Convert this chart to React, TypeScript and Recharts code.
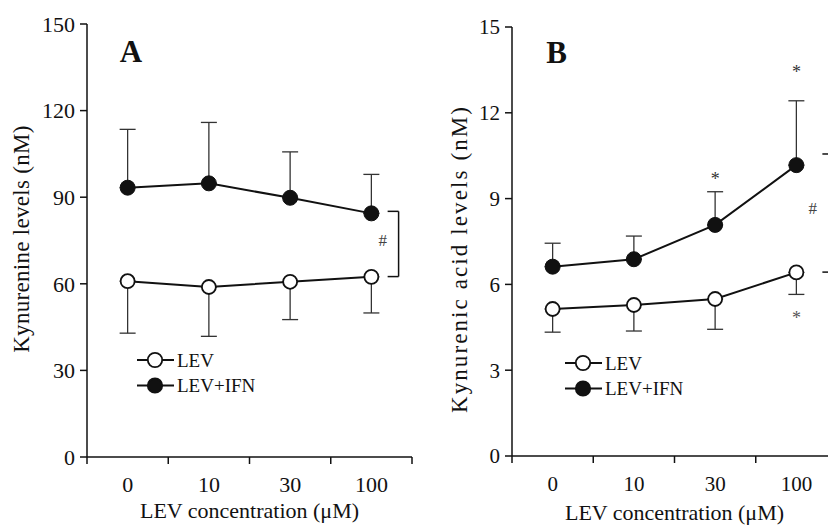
import React from 'react';
import { LineChart, Line, XAxis, YAxis, ErrorBar, ReferenceLine, ReferenceDot, Legend } from 'recharts';

const FONT = '"Liberation Serif", "Times New Roman", Times, serif';
const INK = '#111';

// x categories (LEV concentration, µM)
const concentrations = ['0', '10', '30', '100'];

// Panel A: kynurenine (nM), mean and one-sided SEM
const kynLev = [60.9, 58.9, 60.7, 62.4];
const kynLevErr = [18.0, 17.1, 13.1, 12.5];
const kynIfn = [93.3, 94.8, 89.8, 84.4];
const kynIfnErr = [20.2, 21.1, 15.9, 13.5];
const kynTicks = [0, 30, 60, 90, 120, 150];

// Panel B: kynurenic acid (nM)
const kynaLev = [5.14, 5.28, 5.49, 6.42];
const kynaLevErr = [0.81, 0.91, 1.06, 0.77];
const kynaIfn = [6.62, 6.88, 8.08, 10.17];
const kynaIfnErr = [0.82, 0.81, 1.16, 2.25];
const kynaTicks = [0, 3, 6, 9, 12, 15];

const seriesNames = ['LEV', 'LEV+IFN'];

// band edges get tick marks, band centres get the labels
const xTicks = [-0.5, 0, 0.5, 1, 1.5, 2, 2.5, 3, 3.5];

const buildRows = (lev: number[], levErr: number[], ifn: number[], ifnErr: number[]) =>
  concentrations.map((c, i) => ({
    i,
    conc: c,
    lev: lev[i],
    levErr: [levErr[i], 0],
    ifn: ifn[i],
    ifnErr: [0, ifnErr[i]],
  }));

const kynRows = buildRows(kynLev, kynLevErr, kynIfn, kynIfnErr);
const kynaRows = buildRows(kynaLev, kynaLevErr, kynaIfn, kynaIfnErr);

const makeXTick = (fontSize: number) => (props: any) => {
  const { x, y, payload } = props;
  const v = payload.value;
  if (Number.isInteger(v)) {
    return (
      <text x={x} y={y + 35} textAnchor="middle" fontFamily={FONT} fontSize={fontSize} fill={INK}>
        {concentrations[v]}
      </text>
    );
  }
  return <line x1={x} y1={y} x2={x} y2={y + 7} stroke={INK} strokeWidth={1.5} />;
};

const textMark = (label: string, size: number, shift: number, bold = false, color = INK, anchor = 'middle') =>
  (p: any) => (
    <text
      x={p.cx}
      y={p.cy + shift}
      textAnchor={anchor}
      fontFamily={FONT}
      fontSize={size}
      fontWeight={bold ? 'bold' : 'normal'}
      fill={color}
    >
      {label}
    </text>
  );

const yTitle = (text: string, x: number, y: number, size: number, spacing: number) => () => (
  <text
    x={x}
    y={y}
    transform={`rotate(-90 ${x} ${y})`}
    textAnchor="middle"
    fontFamily={FONT}
    fontSize={size}
    letterSpacing={spacing}
    fill={INK}
  >
    {text}
  </text>
);

const SeriesLegend = () => (
  <svg width={130} height={56} style={{ display: 'block', overflow: 'visible' }}>
    {seriesNames.map((name, k) => {
      const cy = 14 + k * 25.5;
      return (
        <g key={name}>
          <line x1={8} x2={45} y1={cy} y2={cy} stroke={INK} strokeWidth={2} />
          <circle cx={26} cy={cy} r={7.2} fill={k === 1 ? INK : '#fff'} stroke={INK} strokeWidth={1.8} />
          <text x={48} y={cy + 6.5} fontFamily={FONT} fontSize={19} fill={INK}>
            {name}
          </text>
        </g>
      );
    })}
  </svg>
);

interface PanelProps {
  rows: ReturnType<typeof buildRows>;
  yMax: number;
  yTicks: number[];
  yAxisWidth: number;
  top: number;
  right: number;
  xHeight: number;
  tickFont: number;
  titleOffset: number;
  yLabel: () => React.ReactElement;
  legendPos: { left: number; top: number };
  children?: React.ReactNode;
}

const Panel: React.FC<PanelProps> = ({
  rows, yMax, yTicks, yAxisWidth, top, right, xHeight, tickFont, titleOffset, yLabel, legendPos, children,
}) => (
  <LineChart width={420} height={525} data={rows} margin={{ top, right, left: 0, bottom: 0 }}>
    <XAxis
      dataKey="i"
      type="number"
      domain={[-0.5, 3.5]}
      ticks={xTicks}
      interval={0}
      tickLine={false}
      tickSize={0}
      tickMargin={0}
      height={xHeight}
      axisLine={{ stroke: INK, strokeWidth: 1.5 }}
      tick={makeXTick(tickFont)}
      label={{
        value: 'LEV concentration (μM)',
        position: 'insideBottom',
        offset: titleOffset,
        style: { fontFamily: FONT, fontSize: 22, fill: INK },
      }}
    />
    <YAxis
      type="number"
      domain={[0, yMax]}
      ticks={yTicks}
      interval={0}
      width={yAxisWidth}
      tickSize={7}
      tickMargin={5}
      axisLine={{ stroke: INK, strokeWidth: 1.5 }}
      tickLine={{ stroke: INK, strokeWidth: 1.5 }}
      tick={{ fontFamily: FONT, fontSize: tickFont, fill: INK }}
      label={{ content: yLabel }}
    />
    <Legend
      layout="vertical"
      align="center"
      verticalAlign="middle"
      content={<SeriesLegend />}
      wrapperStyle={{ left: legendPos.left, top: legendPos.top, width: 'auto' }}
    />
    <Line
      dataKey="lev"
      type="linear"
      stroke={INK}
      strokeWidth={2}
      dot={{ r: 7, fill: '#fff', stroke: INK, strokeWidth: 1.8 }}
      activeDot={false}
      isAnimationActive={false}
    >
      <ErrorBar dataKey="levErr" direction="y" width={8} stroke="#333" strokeWidth={1.3} />
    </Line>
    <Line
      dataKey="ifn"
      type="linear"
      stroke={INK}
      strokeWidth={2}
      dot={{ r: 7.5, fill: INK, stroke: INK, strokeWidth: 1 }}
      activeDot={false}
      isAnimationActive={false}
    >
      <ErrorBar dataKey="ifnErr" direction="y" width={8} stroke="#333" strokeWidth={1.3} />
    </Line>
    {children}
  </LineChart>
);

const bracket = { stroke: INK, strokeWidth: 1.5, ifOverflow: 'visible' as const };

export default function App() {
  return (
    <div style={{ position: 'absolute', left: 0, top: 0, width: 828, height: 525, overflow: 'hidden', background: '#fff' }}>
      <div style={{ position: 'absolute', left: 0, top: 0 }}>
        <Panel
          rows={kynRows}
          yMax={150}
          yTicks={kynTicks}
          yAxisWidth={87}
          top={24}
          right={8}
          xHeight={68}
          tickFont={22}
          titleOffset={7}
          yLabel={yTitle('Kynurenine levels (nM)', 29, 239, 23, 0.3)}
          legendPos={{ left: 129, top: 346 }}
        >
          <ReferenceDot x={0.04} y={136.8} ifOverflow="visible" shape={textMark('A', 31, 0, true)} />
          <ReferenceDot x={3.14} y={75.3} ifOverflow="visible" shape={textMark('#', 17, 6, false, '#444')} />
          <ReferenceLine segment={[{ x: 3.2, y: 85.1 }, { x: 3.335, y: 85.1 }]} {...bracket} />
          <ReferenceLine segment={[{ x: 3.335, y: 85.1 }, { x: 3.335, y: 62.5 }]} {...bracket} />
          <ReferenceLine segment={[{ x: 3.2, y: 62.5 }, { x: 3.335, y: 62.5 }]} {...bracket} />
        </Panel>
      </div>
      <div style={{ position: 'absolute', left: 420, top: 0 }}>
        <Panel
          rows={kynaRows}
          yMax={15}
          yTicks={kynaTicks}
          yAxisWidth={92}
          top={27}
          right={3}
          xHeight={69}
          tickFont={21}
          titleOffset={5}
          yLabel={yTitle('Kynurenic acid levels (nM)', 47, 259, 23, 2.1)}
          legendPos={{ left: 137, top: 349 }}
        >
          <ReferenceDot x={0.05} y={13.74} ifOverflow="visible" shape={textMark('B', 31, 0, true)} />
          <ReferenceDot x={2} y={9.77} ifOverflow="visible" shape={textMark('*', 18, 8.5, false, '#333')} />
          <ReferenceDot x={3} y={13.53} ifOverflow="visible" shape={textMark('*', 18, 8.5, false, '#333')} />
          <ReferenceDot x={3} y={4.93} ifOverflow="visible" shape={textMark('*', 18, 8.5, false, '#555')} />
          <ReferenceDot x={3.2} y={8.67} ifOverflow="visible" shape={textMark('#', 17, 6, false, '#444')} />
          <ReferenceLine segment={[{ x: 3.32, y: 10.56 }, { x: 3.6, y: 10.56 }]} {...bracket} />
          <ReferenceLine segment={[{ x: 3.32, y: 6.43 }, { x: 3.6, y: 6.43 }]} {...bracket} />
          <ReferenceLine segment={[{ x: 3.6, y: 10.56 }, { x: 3.6, y: 6.43 }]} {...bracket} />
        </Panel>
      </div>
    </div>
  );
}
